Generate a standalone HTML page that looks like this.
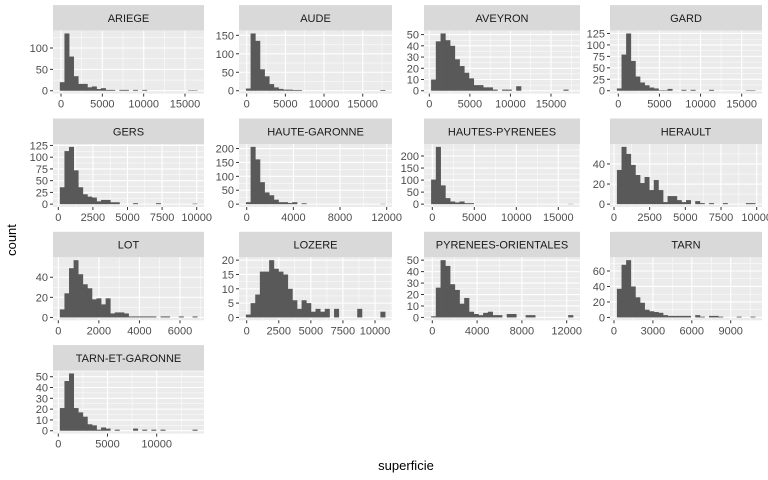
<!DOCTYPE html>
<html><head><meta charset="utf-8"><style>
body{margin:0;background:#fff}
svg{display:block;font-family:"Liberation Sans",Arial,sans-serif}
</style></head><body>
<svg id="chart" width="768" height="480" viewBox="0 0 768 480" xmlns="http://www.w3.org/2000/svg">
<text x="406" y="470" font-size="13" fill="#000" text-anchor="middle">superficie</text>
<text x="16" y="240" font-size="13" fill="#000" text-anchor="middle" transform="rotate(-90 16 240)">count</text>
</svg>
<script>
const panelNames = ["ARIEGE","AUDE","AVEYRON","GARD","GERS","HAUTE-GARONNE","HAUTES-PYRENEES","HERAULT","LOT","LOZERE","PYRENEES-ORIENTALES","TARN","TARN-ET-GARONNE"];
const xLimits = [[-968,17298],[-996,18789],[-653,18574],[-1009,17468],[-383,10527],[-660,12454],[-988,17583],[-280,10372],[-261,7183],[-600,11325],[-741,13188],[-308,11414],[-538,14807]];
const xTicks = [[0,5000,10000,15000],[0,5000,10000,15000],[0,5000,10000,15000],[0,5000,10000,15000],[0,2500,5000,7500,10000],[0,4000,8000,12000],[0,5000,10000,15000],[0,2500,5000,7500,10000],[0,2000,4000,6000],[0,2500,5000,7500,10000],[0,4000,8000,12000],[0,3000,6000,9000],[0,5000,10000]];
const yTicks = [[0,50,100],[0,50,100,150],[0,10,20,30,40,50],[0,25,50,75,100,125],[0,25,50,75,100,125],[0,50,100,150,200],[0,50,100,150,200],[0,20,40],[0,20,40],[0,5,10,15,20],[0,10,20,30,40,50],[0,20,40,60],[0,10,20,30,40,50]];
const countsAriege = [20,134,80,34,16,16,8,10,4,6,2,2,0,2,2,0,2,0,2,0,0,0,0,0,0,0,0,0,1,1];
const countsAude = [6,155,135,58,39,18,9,5,3,3,2,2,0,0,0,0,0,0,0,0,0,0,0,0,0,0,0,0,0,2];
const countsAveyron = [10,44,51,45,40,28,22,16,11,5,5,3,3,1,0,1,1,0,4,0,0,0,0,0,0,0,0,0,1,0];
const countsGard = [5,79,125,65,31,18,12,7,5,1,1,4,0,0,2,0,2,0,0,0,2,0,0,0,0,0,0,0,1,1];
const countsGers = [36,113,122,72,36,21,16,14,6,9,9,4,4,0,0,0,2,0,0,0,0,2,0,0,0,0,0,0,0,1];
const countsHauteGaronne = [7,206,161,79,42,32,16,7,7,4,7,0,3,0,0,0,0,0,0,0,0,0,0,0,0,0,0,0,0,1];
const countsHautesPyrenees = [102,238,78,25,11,7,11,4,4,0,0,0,0,0,0,0,0,0,0,0,0,0,0,0,0,0,0,0,0,1];
const countsHerault = [34,57,50,39,29,21,27,14,24,14,2,8,8,4,2,4,0,3,1,0,1,0,0,1,0,0,0,0,1,1];
const countsLot = [8,24,49,57,43,33,29,18,19,13,19,4,5,5,4,1,1,1,1,1,1,0,1,1,0,0,1,0,0,1];
const countsLozere = [1,5,8,16,16,20,17,16,15,10,6,3,6,5,2,3,2,3,0,3,0,0,0,0,3,0,0,0,0,2];
const countsPyreneesOrientales = [1,26,50,45,29,24,12,17,5,3,2,4,5,2,2,0,3,3,0,0,2,2,0,0,0,0,0,0,0,2];
const countsTarn = [37,68,74,40,26,19,10,8,7,6,3,2,2,2,2,2,0,3,1,0,2,2,1,0,0,0,1,0,0,1];
const countsTarnEtGaronne = [21,46,53,21,17,13,6,5,1,3,2,0,1,0,0,0,2,0,1,0,1,0,1,0,0,0,0,0,0,1];
const allCounts = [countsAriege,countsAude,countsAveyron,countsGard,countsGers,countsHauteGaronne,countsHautesPyrenees,countsHerault,countsLot,countsLozere,countsPyreneesOrientales,countsTarn,countsTarnEtGaronne];

const NS = "http://www.w3.org/2000/svg";
const svg = document.getElementById("chart");
const colX = [[53,204],[239,392],[424,580],[610,762]];
const rowTop = [30.6,144,257.3,370.6];
const PH = 63, SH = 25.5;
function mk(tag, attrs, parent){
  const e = document.createElementNS(NS, tag);
  for (const k in attrs) e.setAttribute(k, attrs[k]);
  (parent||svg).appendChild(e);
  return e;
}
panelNames.forEach((name, p) => {
  const c = p % 4, r = Math.floor(p / 4);
  const L = colX[c][0], R = colX[c][1], T = rowTop[r], B = T + PH;
  const [lo, hi] = xLimits[p];
  const counts = allCounts[p];
  const ymax = Math.max(...counts);
  const ylo = -0.05 * ymax, yhi = 1.05 * ymax;
  const sx = v => L + (v - lo) / (hi - lo) * (R - L);
  const sy = v => B - (v - ylo) / (yhi - ylo) * (B - T);
  const g = mk("g", {});
  
  
  const strip = mk("rect", {x:L, y:T-SH, width:R-L, height:SH, fill:"#d9d9d9"}, g);
  
  
  const st = mk("text", {x:(L+R)/2, y:T-SH/2+4, "font-size":11, fill:"#1a1a1a", "text-anchor":"middle"}, g);
  st.textContent = name;
  
  
  const bg = mk("rect", {x:L, y:T, width:R-L, height:PH, fill:"#ebebeb"}, g);
  
  
  const xt = xTicks[p], yt = yTicks[p];
  const xstep = xt[1]-xt[0], ystep = yt[1]-yt[0];
  for (let v = xt[0] - xstep/2; v <= hi; v += xstep) if (v >= lo) mk("line",{x1:sx(v),x2:sx(v),y1:T,y2:B,stroke:"#fff","stroke-width":0.5},g);
  for (let v = yt[0] - ystep/2; v <= yhi; v += ystep) if (v >= ylo) mk("line",{x1:L,x2:R,y1:sy(v),y2:sy(v),stroke:"#fff","stroke-width":0.5},g);
  xt.forEach(v => {
    mk("line",{x1:sx(v),x2:sx(v),y1:T,y2:B,stroke:"#fff","stroke-width":1.1},g);
    mk("line",{x1:sx(v),x2:sx(v),y1:B,y2:B+3,stroke:"#333","stroke-width":1},g);
    const t = mk("text",{x:sx(v),y:B+14,"font-size":11,fill:"#4d4d4d","text-anchor":"middle"},g);
    t.textContent = v;
    
    
  });
  yt.forEach(v => {
    mk("line",{x1:L,x2:R,y1:sy(v),y2:sy(v),stroke:"#fff","stroke-width":1.1},g);
    mk("line",{x1:L-3,x2:L,y1:sy(v),y2:sy(v),stroke:"#333","stroke-width":1},g);
    const t = mk("text",{x:L-5,y:sy(v)+4,"font-size":11,fill:"#4d4d4d","text-anchor":"end"},g);
    t.textContent = v;
    
    
  });
  const span = (hi - lo) / 1.1;
  const bw = span / counts.length;
  const start = lo + 0.05 * span;
  counts.forEach((n, i) => {
    if (n <= 0) return;
    const x0 = sx(start + i*bw), x1 = sx(start + (i+1)*bw);
    const b = mk("rect",{x:x0, y:sy(n), width:x1-x0+0.4, height:sy(0)-sy(n), fill:"#595959"},g);
    
    
  });
});
</script>
</body></html>
